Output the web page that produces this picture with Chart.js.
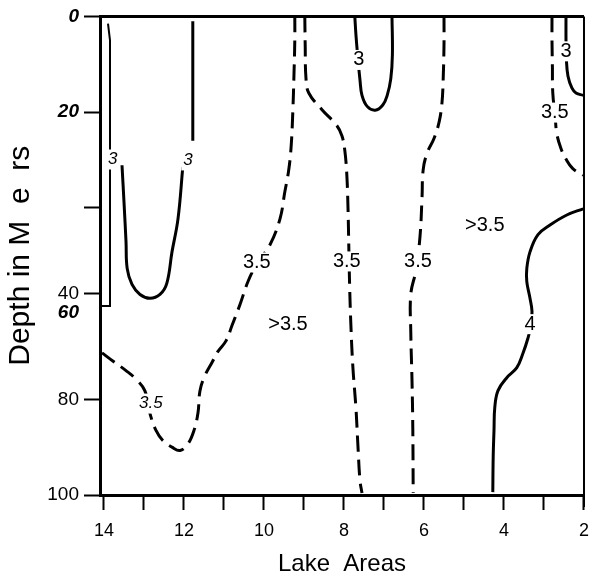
<!DOCTYPE html>
<html>
<head>
<meta charset="utf-8">
<script src="https://cdn.jsdelivr.net/npm/chart.js@4.4.1/dist/chart.umd.min.js"></script>
<style>
  html, body { margin: 0; padding: 0; background: #fff; }
</style>
</head>
<body>
<canvas id="myChart" width="599" height="579"></canvas>
<script>
// osy
const xTickValues = [14, 13, 12, 11, 10, 9, 8, 7, 6, 5, 4, 3, 2];
const xTickLabels = ['14', '', '12', '', '10', '', '8', '', '6', '', '4', '', '2'];
const yTickValues = [0, 20, 40, 58, 62, 80, 100];
const yTickLabels = ['0', '20', '', '40', '60', '80', '100'];

// izolinie [oblast, hloubka]
const c3Edge = [[13.9, 1.5], [13.85, 5], [13.85, 60.5], [14.1, 60.5]];
const c3Post = [[11.78, 1], [11.78, 26]];
const c3Bowl = [[13.55, 31.1], [13.5, 38.8], [13.45, 47], [13.42, 52.7], [13.3, 56], [13.1, 58.1], [12.85, 58.9],
                [12.6, 58.1], [12.43, 55.8], [12.3, 49.2], [12.15, 42.3], [12.03, 31.5]];
const c35West = [[9.23, 0], [9.23, 5], [9.25, 12], [9.28, 20], [9.32, 27], [9.38, 32], [9.48, 36.7], [9.6, 42.3],
                 [9.85, 47.7], [10.18, 51.7], [10.4, 55.4], [10.6, 60.2], [10.8, 64.6], [10.95, 67.8], [11.15, 70],
                 [11.3, 72.3], [11.48, 75.1], [11.6, 78.2], [11.65, 82.8], [11.75, 86.5], [11.9, 89.3], [12.1, 90.7],
                 [12.3, 90], [12.53, 88.6], [12.7, 86.5], [12.85, 83], [12.98, 78.2], [13.2, 75.8], [13.45, 74],
                 [13.78, 72], [14.05, 70.3]];
const c35Mid = [[8.98, 0], [8.97, 6], [8.95, 13], [8.88, 16], [8.55, 19.5], [8.18, 22.8], [8.05, 25], [7.98, 28],
                [7.93, 33], [7.9, 40], [7.88, 48], [7.86, 56], [7.83, 64], [7.78, 73], [7.7, 82], [7.65, 90],
                [7.6, 97], [7.55, 99.6]];
const c3Dip = [[7.73, 0], [7.7, 4], [7.65, 9], [7.6, 13.3], [7.55, 16.5], [7.42, 18.8], [7.22, 19.6], [7.03, 18.5],
               [6.92, 16.5], [6.83, 13], [6.79, 8], [6.8, 0]];
const c35East = [[5.5, 0], [5.5, 6], [5.52, 13], [5.55, 18], [5.62, 22], [5.75, 25.5], [5.92, 28.5], [6.02, 32],
                 [6.05, 38], [6.1, 46], [6.2, 53], [6.33, 58], [6.33, 66], [6.3, 76], [6.28, 86], [6.27, 99.6]];
const c35Corner = [[2.8, 0], [2.8, 5], [2.79, 10.4], [2.78, 16], [2.72, 21], [2.68, 24.5], [2.58, 27.5],
                   [2.45, 29.8], [2.28, 31.8], [2.02, 33.2]];
const c3Corner = [[2.45, 0], [2.45, 5], [2.44, 9], [2.4, 12.5], [2.3, 15], [2.2, 16], [2.02, 16.5]];
const c4 = [[2.02, 40.2], [2.43, 41.5], [2.85, 43.6], [3.15, 45.6], [3.35, 49.2], [3.43, 52.7], [3.43, 55.4],
            [3.35, 58.9], [3.3, 61.6], [3.32, 64.3], [3.4, 67.2], [3.53, 70.5], [3.68, 73.4], [3.93, 75.5],
            [4.15, 78.2], [4.23, 81.7], [4.25, 86.5], [4.27, 92], [4.28, 99.4]];

// popisky izolinii
const labelText = ['3', '3', '3.5', '>3.5', '3.5', '3', '3.5', '3.5', '>3.5', '3.5', '3', '4'];
const labelX = [13.78, 11.9, 10.18, 9.4, 12.83, 7.63, 7.93, 6.15, 4.48, 2.73, 2.45, 3.35];
const labelY = [29.9, 30.1, 51.4, 64.3, 80.9, 9.1, 51.2, 51.2, 43.6, 20.1, 7.3, 64.3];

const FONT = "'Liberation Sans', Arial, sans-serif";
Chart.defaults.font.family = FONT;
Chart.defaults.color = '#000';

function toPts(arr) {
    return arr.map(p => ({ x: p[0], y: p[1] }));
}

function line(arr, dashed, opts) {
    return Object.assign({
        data: toPts(arr),
        showLine: true,
        borderColor: '#000',
        borderWidth: 3,
        borderDash: dashed ? [16, 8] : [],
        pointRadius: 0,
        tension: 0.4,
        fill: false
    }, opts || {});
}

// ramecek nahore a vpravo, dole
const framePlugin = {
    id: 'frame',
    afterDatasetsDraw(chart) {
        const a = chart.chartArea, c = chart.ctx;
        c.save();
        c.strokeStyle = '#000';
        c.lineWidth = 3;
        c.beginPath();
        c.moveTo(a.left, a.top);
        c.lineTo(a.right, a.top);
        c.stroke();
        c.lineWidth = 2;
        c.beginPath();
        c.moveTo(a.right, a.top);
        c.lineTo(a.right, a.bottom + 12);
        c.stroke();
        c.restore();
    }
};

const italicLabels = [0, 1, 4];
const labelPlugin = {
    id: 'contourLabels',
    afterDatasetsDraw(chart) {
        const c = chart.ctx, xs = chart.scales.x, ys = chart.scales.y;
        c.save();
        c.textAlign = 'center';
        c.textBaseline = 'middle';
        labelText.forEach((t, i) => {
            const px = xs.getPixelForValue(labelX[i]);
            const py = ys.getPixelForValue(labelY[i]);
            const it = italicLabels.includes(i);
            c.font = (it ? 'italic ' : '') + (it ? 17 : 20) + 'px ' + FONT;
            const w = c.measureText(t).width;
            c.fillStyle = '#fff';
            c.fillRect(px - w / 2 - 2, py - 10, w + 4, 20);
            c.fillStyle = '#000';
            c.fillText(t, px, py);
        });
        c.restore();
    }
};

const ctx = document.getElementById('myChart').getContext('2d');
const myChart = new Chart(ctx, {
    type: 'scatter',
    data: {
        datasets: [
            line(c3Edge, false, { borderWidth: 2, tension: 0 }),
            line(c3Post, false, { borderWidth: 3, tension: 0 }),
            line(c3Bowl, false),
            line(c35West, true),
            line(c35Mid, true),
            line(c3Dip, false),
            line(c35East, true),
            line(c35Corner, true),
            line(c3Corner, false),
            line(c4, false)
        ]
    },
    options: {
        responsive: false,
        animation: false,
        layout: { padding: { top: 13, right: 15, left: 0, bottom: 0 } },
        plugins: {
            legend: { display: false },
            tooltip: { enabled: false }
        },
        scales: {
            x: {
                type: 'linear',
                reverse: true,
                min: 2,
                max: 14.1,
                afterBuildTicks: scale => { scale.ticks = xTickValues.map(v => ({ value: v })); },
                afterFit: scale => { scale.height = 84; },
                ticks: {
                    autoSkip: false,
                    maxRotation: 0,
                    padding: 10,
                    font: { size: 18 },
                    callback: (v) => xTickLabels[xTickValues.indexOf(v)]
                },
                grid: {
                    drawOnChartArea: false,
                    tickLength: 15,
                    tickWidth: 2,
                    tickColor: '#000'
                },
                border: { display: true, color: '#000', width: 3 },
                title: {
                    display: true,
                    text: 'Lake  Areas',
                    font: { size: 24 },
                    padding: { top: 0, bottom: 0 }
                }
            },
            y: {
                type: 'linear',
                reverse: true,
                min: 0,
                max: 100,
                afterBuildTicks: scale => { scale.ticks = yTickValues.map(v => ({ value: v })); },
                afterFit: scale => { scale.width = 100; },
                ticks: {
                    autoSkip: false,
                    padding: 5,
                    callback: (v, i) => yTickLabels[i],
                    font: (c) => {
                        const l = yTickLabels[c.index];
                        const special = l === '0' || l === '20' || l === '60';
                        return { size: 19, style: special ? 'italic' : 'normal', weight: special ? 'bold' : 'normal' };
                    }
                },
                grid: {
                    drawOnChartArea: false,
                    tickLength: 16,
                    tickWidth: 2,
                    tickColor: (c) => yTickLabels[c.index] === '60' ? 'rgba(0,0,0,0)' : '#000'
                },
                border: { display: true, color: '#000', width: 3 },
                title: {
                    display: true,
                    text: 'Depth in M  e  rs',
                    font: { size: 30 },
                    padding: { top: 3, bottom: 0 }
                }
            }
        }
    },
    plugins: [framePlugin, labelPlugin]
});
</script>
</body>
</html>
